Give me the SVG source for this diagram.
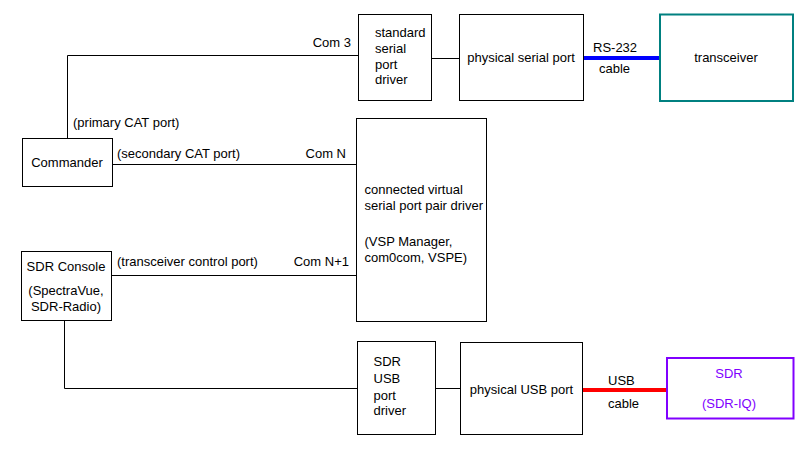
<svg xmlns="http://www.w3.org/2000/svg" width="800" height="464" viewBox="0 0 800 464">
<style>
text{font-family:"Liberation Sans",Arial,sans-serif;font-size:13px;fill:#000}
.box{fill:#fff;stroke:#000;stroke-width:1}
.ln{fill:none;stroke:#000;stroke-width:1}
.end{text-anchor:end}
.mid{text-anchor:middle}
.pur{fill:#8000ff}
</style>
<rect width="800" height="464" fill="#fff"/>
<g id="connectors">
<polyline class="ln" points="67.5,138 67.5,55.5 358,55.5"/>
<line class="ln" x1="431" y1="58.5" x2="459" y2="58.5"/>
<line x1="583" y1="58" x2="660" y2="58" stroke="#0000ff" stroke-width="4"/>
<line class="ln" x1="112" y1="164.5" x2="357" y2="164.5"/>
<line class="ln" x1="112" y1="275.5" x2="357" y2="275.5"/>
<polyline class="ln" points="64.5,320 64.5,388.5 357,388.5"/>
<line class="ln" x1="435" y1="388.5" x2="460" y2="388.5"/>
<line x1="582" y1="390" x2="667" y2="390" stroke="#ff0000" stroke-width="4"/>
<text x="351" y="47" class="end">Com 3</text>
<text x="73" y="127">(primary CAT port)</text>
<text x="117" y="158">(secondary CAT port)</text>
<text x="346" y="158" class="end">Com N</text>
<text x="117" y="266">(transceiver control port)</text>
<text x="349" y="266" class="end">Com N+1</text>
<text x="593" y="52">RS-232</text>
<text x="599" y="73">cable</text>
<text x="608" y="385">USB</text>
<text x="608" y="408">cable</text>
</g>
<g id="commander">
<rect class="box" x="22.5" y="138.5" width="90" height="48"/>
<text x="67" y="167" class="mid">Commander</text>
</g>
<g id="sdr-console">
<rect class="box" x="21.5" y="251.5" width="90" height="69"/>
<text x="66" y="271" class="mid">SDR Console</text>
<text x="66" y="295" class="mid">(SpectraVue,</text>
<text x="66" y="311" class="mid">SDR-Radio)</text>
</g>
<g id="std-serial-driver">
<rect class="box" x="358.5" y="14.5" width="73" height="86"/>
<text x="375" y="37">standard</text>
<text x="375" y="53">serial</text>
<text x="375" y="68.5">port</text>
<text x="375" y="84">driver</text>
</g>
<g id="physical-serial-port">
<rect class="box" x="459.5" y="14.5" width="124" height="86"/>
<text x="521" y="62" class="mid">physical serial port</text>
</g>
<g id="transceiver">
<rect x="660" y="14.5" width="133" height="86.5" fill="#fff" stroke="#008080" stroke-width="2"/>
<text x="726" y="62" class="mid">transceiver</text>
</g>
<g id="virtual-serial-pair">
<rect class="box" x="356.5" y="118.5" width="130" height="203"/>
<text x="364.5" y="194">connected virtual</text>
<text x="364.5" y="209.5">serial port pair driver</text>
<text x="364.5" y="246">(VSP Manager,</text>
<text x="364.5" y="262">com0com, VSPE)</text>
</g>
<g id="sdr-usb-driver">
<rect class="box" x="357.5" y="341.5" width="78" height="93"/>
<text x="373.5" y="366">SDR</text>
<text x="373.5" y="383">USB</text>
<text x="373.5" y="399.5">port</text>
<text x="373.5" y="415">driver</text>
</g>
<g id="physical-usb-port">
<rect class="box" x="460.5" y="342.5" width="122" height="92"/>
<text x="521.5" y="394" class="mid">physical USB port</text>
</g>
<g id="sdr">
<rect x="667" y="358" width="126.5" height="60.5" fill="#fff" stroke="#8000ff" stroke-width="2"/>
<text x="729" y="378" class="mid pur">SDR</text>
<text x="729" y="408" class="mid pur">(SDR-IQ)</text>
</g>
</svg>
